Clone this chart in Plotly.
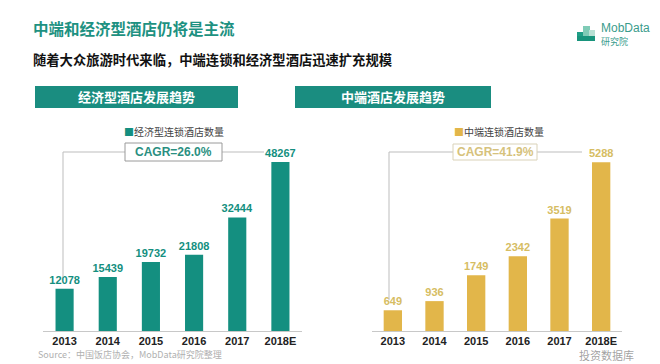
import plotly.graph_objects as go

W, H = 660, 364

years = ["2013", "2014", "2015", "2016", "2017", "2018E"]
economy_hotels = [12078, 15439, 19732, 21808, 32444, 48267]
midscale_hotels = [649, 936, 1749, 2342, 3519, 5288]

title = "中端和经济型酒店仍将是主流"
subtitle = "随着大众旅游时代来临，中端连锁和经济型酒店迅速扩充规模"
left_banner = "经济型酒店发展趋势"
right_banner = "中端酒店发展趋势"
left_legend = "经济型连锁酒店数量"
right_legend = "中端连锁酒店数量"
left_cagr = "CAGR=26.0%"
right_cagr = "CAGR=41.9%"
source = "Source：中国饭店协会，MobData研究院整理"

TEAL = "#148f80"
GOLD = "#e2b64a"
GOLD_TXT = "#d6bd63"
CJK = "Noto Sans CJK SC"
LAT = "Liberation Sans"


def px(x):
    return x / W


def py(y):
    return 1 - y / H


fig = go.Figure()

fig.add_trace(go.Bar(
    x=years, y=economy_hotels, xaxis="x", yaxis="y",
    marker=dict(color=TEAL, line=dict(width=0)), width=0.42,
    text=[str(v) for v in economy_hotels], textposition="outside",
    textfont=dict(family=LAT, size=11, color=TEAL, weight="bold"),
    constraintext="none", cliponaxis=False, showlegend=False, hoverinfo="x+y",
))
fig.add_trace(go.Bar(
    x=years, y=midscale_hotels, xaxis="x2", yaxis="y2",
    marker=dict(color=GOLD, line=dict(width=0)), width=0.44,
    text=[str(v) for v in midscale_hotels], textposition="outside",
    textfont=dict(family=LAT, size=11, color=GOLD_TXT, weight="bold"),
    constraintext="none", cliponaxis=False, showlegend=False, hoverinfo="x+y",
))

ydom = [py(331), py(156)]
xaxis_common = dict(
    showgrid=False, zeroline=False, showline=True, linecolor="#c8c8c8", linewidth=1,
    ticks="", tickfont=dict(family=LAT, size=11, color="#222", weight="bold"),
    fixedrange=True,
)
fig.update_layout(
    width=W, height=H, margin=dict(l=0, r=0, t=0, b=0),
    paper_bgcolor="white", plot_bgcolor="white",
    xaxis=dict(domain=[px(43), px(302)], anchor="y", **xaxis_common),
    xaxis2=dict(domain=[px(372), px(622)], anchor="y2", **xaxis_common),
    yaxis=dict(domain=ydom, range=[0, 50000], visible=False, anchor="x", fixedrange=True),
    yaxis2=dict(domain=ydom, range=[0, 5480], visible=False, anchor="x2", fixedrange=True),
    bargap=0.58,
    font=dict(family=CJK),
)

shapes = []
annotations = []

# Title & subtitle
annotations.append(dict(x=px(31), y=py(28), xref="paper", yref="paper", xanchor="left", yanchor="middle",
                        text=title, showarrow=False,
                        font=dict(family=CJK, size=15.5, color="#1d9181", weight="bold")))
annotations.append(dict(x=px(31), y=py(60), xref="paper", yref="paper", xanchor="left", yanchor="middle",
                        text=subtitle, showarrow=False,
                        font=dict(family=CJK, size=13.3, color="#111", weight="bold")))

# Banners
for (x0, x1, txt) in [(35, 238, left_banner), (295, 491, right_banner)]:
    shapes.append(dict(type="rect", xref="paper", yref="paper", x0=px(x0), x1=px(x1), y0=py(108), y1=py(86),
                       fillcolor="#1a8d80", line=dict(width=0), layer="below"))
    annotations.append(dict(x=px((x0 + x1) / 2), y=py(97), xref="paper", yref="paper",
                            xanchor="center", yanchor="middle", text=txt, showarrow=False,
                            font=dict(family=CJK, size=13, color="white", weight="bold")))

# Logo
logo_rects = [(577, 584, 32, 41, "#1f9e86"), (583, 590, 26, 41, "#7fcbb6"), (589, 595, 30, 41, "#b8e0d4"),
              (577, 595, 36, 41, "#18947c")]
for x0, x1, y0, y1, c in logo_rects:
    shapes.append(dict(type="rect", xref="paper", yref="paper", x0=px(x0), x1=px(x1), y0=py(y1), y1=py(y0),
                       fillcolor=c, line=dict(width=0)))
annotations.append(dict(x=px(599), y=py(28), xref="paper", yref="paper", xanchor="left", yanchor="middle",
                        text="MobData", showarrow=False, font=dict(family=LAT, size=12, color="#3a9c8c")))
annotations.append(dict(x=px(599), y=py(41), xref="paper", yref="paper", xanchor="left", yanchor="middle",
                        text="研究院", showarrow=False, font=dict(family=CJK, size=9, color="#3a9c8c")))

# Legends
annotations.append(dict(x=px(122), y=py(131), xref="paper", yref="paper", xanchor="left", yanchor="middle",
                        text=f"<span style='color:{TEAL}'>■</span>{left_legend}", showarrow=False,
                        font=dict(family=CJK, size=10, color="#444")))
annotations.append(dict(x=px(452), y=py(131), xref="paper", yref="paper", xanchor="left", yanchor="middle",
                        text=f"<span style='color:{GOLD}'>■</span>{right_legend}", showarrow=False,
                        font=dict(family=CJK, size=10, color="#444")))


# CAGR boxes and brackets
def bracket(xv, ytop, ybot, bx0, bx1, by0, by1, xr, txt, txtcolor, boxcolor):
    lc = "#bdbdbd"
    shapes.append(dict(type="line", xref="paper", yref="paper", x0=px(xv), x1=px(xv), y0=py(ybot), y1=py(ytop),
                       line=dict(color=lc, width=1)))
    shapes.append(dict(type="line", xref="paper", yref="paper", x0=px(xv), x1=px(bx0), y0=py(ytop), y1=py(ytop),
                       line=dict(color=lc, width=1)))
    shapes.append(dict(type="line", xref="paper", yref="paper", x0=px(bx1), x1=px(xr), y0=py(ytop), y1=py(ytop),
                       line=dict(color=lc, width=1)))
    shapes.append(dict(type="rect", xref="paper", yref="paper", x0=px(bx0), x1=px(bx1), y0=py(by1), y1=py(by0),
                       fillcolor="white", line=dict(color=boxcolor, width=1)))
    annotations.append(dict(x=px((bx0 + bx1) / 2), y=py((by0 + by1) / 2), xref="paper", yref="paper",
                            xanchor="center", yanchor="middle", text=txt, showarrow=False,
                            font=dict(family=LAT, size=12, color=txtcolor, weight="bold")))


bracket(63, 152, 277, 125, 222, 143, 161, 264, left_cagr, "#2a8f81", "#9a9a9a")
bracket(389, 152, 300, 453, 537, 144, 160, 582, right_cagr, "#d6c27c", "#d9d2b8")

# Source and watermark
annotations.append(dict(x=px(36), y=py(363), xref="paper", yref="paper", xanchor="left", yanchor="bottom",
                        text=source, showarrow=False, font=dict(family=CJK, size=9, color="#b0b0b0")))
annotations.append(dict(x=px(578), y=py(363.5), xref="paper", yref="paper", xanchor="left", yanchor="bottom",
                        text="投资数据库", showarrow=False, borderpad=0,
                        font=dict(family=CJK, size=11, color="rgba(120,120,120,0.7)")))

fig.update_layout(shapes=shapes, annotations=annotations)

fig.write_html("out.html", config={"displayModeBar": False, "staticPlot": True},
               post_script="document.body.style.margin='0';")
